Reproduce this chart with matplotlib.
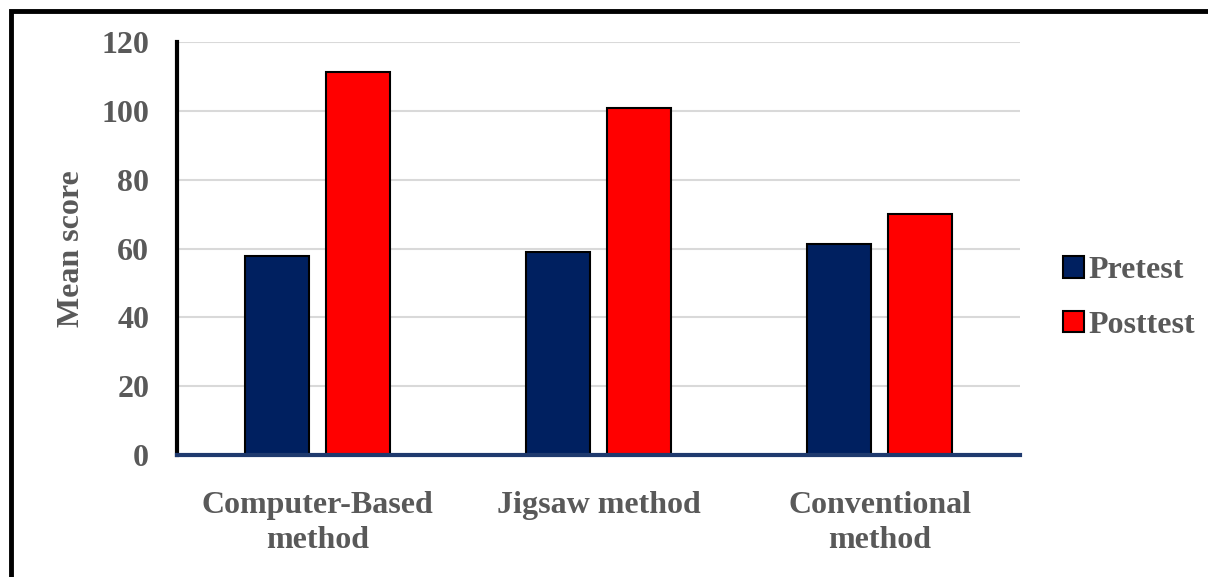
import matplotlib.pyplot as plt
import numpy as np
from matplotlib.patches import Rectangle

categories = ["Computer-Based\nmethod", "Jigsaw method", "Conventional\nmethod"]
pretest = [57.8, 59.0, 61.3]
posttest = [111.3, 100.9, 70.0]

grey = "#595959"
plt.rcParams["font.family"] = ["Liberation Serif", "DejaVu Serif"]
plt.rcParams["font.weight"] = "bold"

fig = plt.figure(figsize=(12.08, 5.77), dpi=100)
ax = fig.add_axes([177 / 1208, 1 - 455 / 577, 843 / 1208, 413 / 577])

# outer frame (runs off the right and bottom edges)
fig.patches.append(Rectangle((11 / 1208, -0.1), 1.2, 1 - 11 / 577 + 0.1,
                             transform=fig.transFigure, fill=False,
                             edgecolor="black", linewidth=3.5, zorder=0))

x = np.arange(len(categories))
width = 0.228
gap = 0.057
ax.bar(x - (width + gap) / 2, pretest, width, color="#002060",
       edgecolor="black", linewidth=1.5, label="Pretest", zorder=3)
ax.bar(x + (width + gap) / 2, posttest, width, color="#FF0000",
       edgecolor="black", linewidth=1.5, label="Posttest", zorder=3)

ax.set_xlim(-0.5, 2.5)
ax.set_ylim(0, 120)
ax.set_yticks(np.arange(0, 121, 20))
ax.yaxis.grid(True, color="#d9d9d9", linewidth=1.5, zorder=0)
ax.set_axisbelow(True)

for s in ["top", "right"]:
    ax.spines[s].set_visible(False)
ax.spines["left"].set_linewidth(3)
ax.spines["left"].set_color("black")
ax.spines["bottom"].set_linewidth(3)
ax.spines["bottom"].set_color("#1f3a6e")
ax.spines["bottom"].set_zorder(4)

ax.tick_params(axis="both", length=0, labelsize=23, labelcolor=grey)
ax.tick_params(axis="y", pad=20)
ax.tick_params(axis="x", pad=26)
ax.set_xticks(x)
ax.set_xticklabels(categories, linespacing=1.25)
for lbl in ax.get_xticklabels() + ax.get_yticklabels():
    lbl.set_fontweight("bold")

ax.set_ylabel("Mean score", fontsize=23, color=grey, fontweight="bold", labelpad=11)

leg = ax.legend(loc="center left", bbox_to_anchor=(1.051, 0.38), frameon=False,
                fontsize=23, handlelength=0.65, handleheight=0.65,
                handletextpad=0.15, labelspacing=0.8,
                borderaxespad=0, borderpad=0)
for t in leg.get_texts():
    t.set_color(grey)
    t.set_fontweight("bold")

fig.savefig("out.png", dpi=100)
